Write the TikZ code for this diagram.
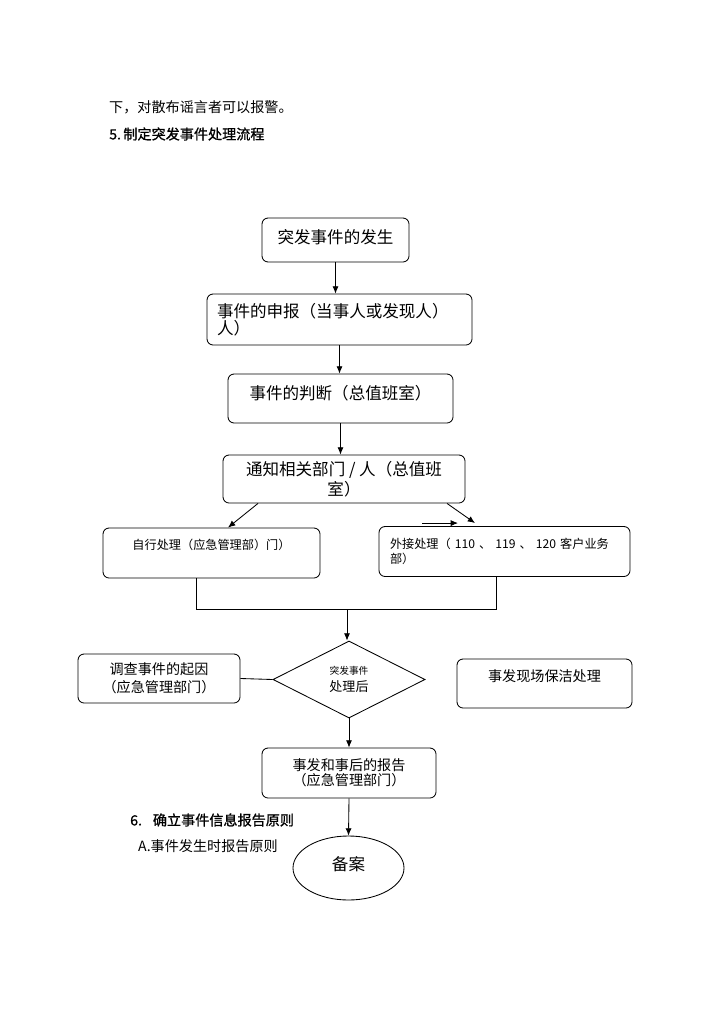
\documentclass[tikz,border=0pt]{standalone}
\usepackage{fontspec}
\usepackage{tikz}
\usetikzlibrary{arrows.meta,shapes.geometric}
\newfontfamily\cjk{Noto Sans CJK SC}
\newfontfamily\cjkbf{Noto Sans CJK SC}[FakeBold=1]
\newcommand{\px}{0.8222pt}
\tikzset{box/.style={draw,rounded corners=5pt,line width=0.7pt,inner sep=0pt},
	 arr/.style={-{Latex[length=6pt,width=5pt]},line width=0.7pt},
	 link/.style={line width=0.7pt},
	 bigtxt/.style={font=\cjk\fontsize{13.6pt}{16.4pt}\selectfont},
	 midtxt/.style={font=\cjk\fontsize{11.6pt}{14.5pt}\selectfont},
	 smalltxt/.style={font=\cjk\fontsize{10pt}{12.3pt}\selectfont},
	 note/.style={anchor=west,inner sep=0pt,font=\cjk\fontsize{11.6pt}{14pt}\selectfont}
	 }

\begin{document}
\begin{tikzpicture}[x=0.8222pt,y=-0.8222pt] % flow of an emergency event
	\useasboundingbox (0,0) rectangle (724,1024);
	\node[note] (t1) at (109,107) {下，对散布谣言者可以报警。};
	\node[note,font=\cjkbf\fontsize{11.6pt}{14pt}\selectfont] (t2) at (109,134) {5.\kern2pt 制定突发事件处理流程};
	\node[box,bigtxt,minimum width=147*\px,minimum height=44*\px,text depth=6pt] (fasheng) at (335.5,240) {突发事件的发生};
	\node[box,bigtxt,minimum width=265*\px,minimum height=51*\px,text width=245*\px,align=left,font=\cjk\fontsize{13.6pt}{13.6pt}\selectfont] (shenbao) at (339.5,319.5) {事件的申报（当事人或发现人）\\人）};
	\node[box,bigtxt,minimum width=225*\px,minimum height=49*\px,text depth=10pt] (panduan) at (340.5,398.5) {事件的判断（总值班室）};
	\node[box,bigtxt,minimum width=242*\px,minimum height=48*\px,align=center] (tongzhi) at (344,479) {通知相关部门 / 人（总值班\\室）};
	\node[box,smalltxt,minimum width=217*\px,minimum height=50*\px,text depth=14pt] (zixing) at (211.5,553) {自行处理（应急管理部）门）};
	\node[box,smalltxt,minimum width=251*\px,minimum height=50*\px,text width=229*\px,align=left] (waijie) at (504.5,551.5) {外接处理（ 110 、 119 、 120 客户业务\\部）};
	\node[diamond,draw,link,inner sep=0pt,minimum width=152*\px,minimum height=77*\px,align=center,font=\cjk\fontsize{10.7pt}{14pt}\selectfont] (chuli) at (349,679.5) {{\fontsize{8pt}{10pt}\selectfont 突发事件}\\处理后};
	\node[box,midtxt,minimum width=162*\px,minimum height=49*\px,align=center] (diaocha) at (159,678.5) {调查事件的起因\\（应急管理部门）};
	\node[box,midtxt,minimum width=175*\px,minimum height=49*\px,text depth=13.4pt] (baojie) at (544.5,683.5) {事发现场保洁处理};
	\node[box,midtxt,minimum width=174*\px,minimum height=50*\px,align=center,font=\cjk\fontsize{11.6pt}{12.6pt}\selectfont] (baogao) at (349,773) {事发和事后的报告\\（应急管理部门）};
	\node[note,font=\cjkbf\fontsize{11.6pt}{14pt}\selectfont] (t3) at (130,820) {6.\kern9pt 确立事件信息报告原则};
	\node[note] (t4) at (138,846) {A.事件发生时报告原则};
	\node[ellipse,draw,link,inner sep=0pt,minimum width=111*\px,minimum height=64*\px,text depth=7.6pt,bigtxt] (beian) at (348.5,868) {备案};
	\coordinate (hub) at (347,610);
	\draw[arr] (fasheng) -- (fasheng |- shenbao.north);
	\draw[arr] (shenbao) -- (shenbao |- panduan.north);
	\draw[arr] (panduan) -- (panduan |- tongzhi.north);
	\draw[arr] ([xshift=-86*\px]tongzhi.south) -- ([xshift=16.5*\px]zixing.north);
	\draw[arr] ([xshift=103*\px]tongzhi.south) -- ([xshift=-29.5*\px,yshift=3*\px]waijie.north);
	\draw[arr] ([xshift=-82.5*\px,yshift=3*\px]waijie.north) -- ([xshift=-46.5*\px,yshift=3*\px]waijie.north);
	\draw[link] ([xshift=-15.5*\px]zixing.south) -- ++(0,31) -| ([xshift=-8.5*\px]waijie.south);
	\draw[arr] (hub) -- (hub |- chuli.north);
	\draw[link] (diaocha.east) -- (chuli.west);
	\draw[arr] (chuli.south) -- (chuli.south |- baogao.north);
	\draw[arr] (baogao.south) -- (beian.north);
\end{tikzpicture}
\end{document}
